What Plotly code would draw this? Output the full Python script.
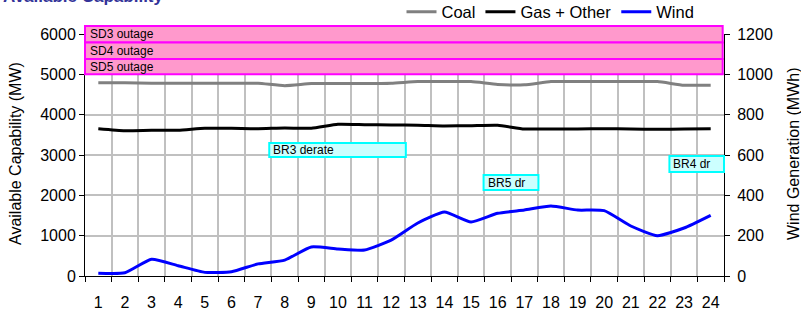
import plotly.graph_objects as go

hours = [str(h) for h in range(1, 25)]
coal = [4790, 4790, 4780, 4780, 4780, 4780, 4780, 4720, 4770, 4770, 4770, 4780,
        4820, 4820, 4820, 4750, 4740, 4820, 4820, 4820, 4820, 4820, 4730, 4730]
gas_other = [3652, 3603, 3613, 3613, 3662, 3662, 3652, 3670, 3662, 3761, 3752, 3744,
             3737, 3719, 3727, 3737, 3645, 3645, 3645, 3652, 3645, 3637, 3645, 3652]
wind = [14, 16, 83, 51, 18, 21, 60, 79, 144, 134, 129, 178,
        263, 317, 268, 311, 327, 347, 327, 324, 248, 200, 238, 301]

# outage / derate annotation boxes (hour span, MW span)
outage_labels = ["SD3 outage", "SD4 outage", "SD5 outage"]
outage_lo = [5790, 5380, 5000]
outage_hi = [6200, 5790, 5380]
outage_h0, outage_h1 = 0.5, 24.45

derate_labels = ["BR3 derate", "BR5 dr", "BR4 dr"]
derate_h0 = [7.42, 15.47, 22.45]
derate_h1 = [12.55, 17.53, 24.5]
derate_lo = [2951, 2132, 2579]
derate_hi = [3298, 2504, 2975]

YMAX = 6000.0
Y2MAX = 1200.0
NH = 24

W, H = 801, 314
ML, MR, MT, MB = 85, 77, 34, 38
PW = W - ML - MR
PH = H - MT - MB

def px(h):
    return (h - 0.5) / NH

def py(v):
    return v / YMAX

def fx(pix):
    return (pix - ML) / PW

def fy(pix):
    return (H - MB - pix) / PH

FONT = "Liberation Sans, Arial, sans-serif"

fig = go.Figure()
fig.add_trace(go.Scatter(x=hours, y=coal, name="Coal", mode="lines",
                         line=dict(color="#808080", width=3, shape="spline", smoothing=0.5)))
fig.add_trace(go.Scatter(x=hours, y=gas_other, name="Gas + Other", mode="lines",
                         line=dict(color="#000000", width=3, shape="spline", smoothing=0.5)))
fig.add_trace(go.Scatter(x=hours, y=wind, name="Wind", mode="lines", yaxis="y2",
                         line=dict(color="#0000ff", width=3, shape="spline", smoothing=0.5)))

shapes = []
annotations = []
for lab, lo, hi in zip(outage_labels, outage_lo, outage_hi):
    shapes.append(dict(type="rect", xref="paper", yref="paper",
                       x0=px(outage_h0), x1=px(outage_h1), y0=py(lo), y1=py(hi),
                       fillcolor="#ff99cc", line=dict(color="#ff00ff", width=2), layer="above"))
    annotations.append(dict(xref="paper", yref="paper", x=px(outage_h0) + 3 / PW,
                            y=py((lo + hi) / 2), text=lab, showarrow=False,
                            xanchor="left", yanchor="middle",
                            font=dict(family=FONT, size=12, color="#000000")))
for lab, h0, h1, lo, hi in zip(derate_labels, derate_h0, derate_h1, derate_lo, derate_hi):
    shapes.append(dict(type="rect", xref="paper", yref="paper",
                       x0=px(h0), x1=px(h1), y0=py(lo), y1=py(hi),
                       fillcolor="#ccffff", line=dict(color="#00ffff", width=2), layer="above"))
    annotations.append(dict(xref="paper", yref="paper", x=px(h0) + 2 / PW,
                            y=py((lo + hi) / 2), text=lab, showarrow=False,
                            xanchor="left", yanchor="middle",
                            font=dict(family=FONT, size=12, color="#000000")))

# chart title (mostly above the visible area, as in the original)
annotations.append(dict(xref="paper", yref="paper", x=fx(0.5), y=fy(-3.8),
                        text="<b>Available Capability</b>", showarrow=False,
                        xanchor="left", yanchor="middle",
                        font=dict(family=FONT, size=17, color="#333399")))
# axis titles
annotations.append(dict(xref="paper", yref="paper", x=fx(15), y=fy(154),
                        text="Available Capability (MW)", showarrow=False, textangle=-90,
                        xanchor="center", yanchor="middle",
                        font=dict(family=FONT, size=16, color="#000000")))
annotations.append(dict(xref="paper", yref="paper", x=fx(793), y=fy(154),
                        text="Wind Generation (MWh)", showarrow=False, textangle=-90,
                        xanchor="center", yanchor="middle",
                        font=dict(family=FONT, size=16, color="#000000")))

fig.update_layout(
    width=W, height=H,
    margin=dict(l=ML, r=MR, t=MT, b=MB, autoexpand=False),
    paper_bgcolor="white", plot_bgcolor="white",
    font=dict(family=FONT, size=16, color="#000000"),
    showlegend=True,
    legend=dict(orientation="h", x=fx(401.5), xanchor="left", y=fy(12), yanchor="middle",
                font=dict(family=FONT, size=16.5), bgcolor="rgba(0,0,0,0)"),
    xaxis=dict(type="category", tickson="boundaries", range=[-0.5, 23.5],
               showgrid=True, gridcolor="#c0c0c0", gridwidth=1.5,
               ticks="outside", ticklen=5, tickcolor="#000000", tickangle=0,
               ticklabelstandoff=12,
               showline=True, linecolor="#000000", linewidth=1, automargin=False,
               tickfont=dict(size=16), fixedrange=True),
    yaxis=dict(range=[0, YMAX], dtick=1000, showgrid=True, gridcolor="#c0c0c0", gridwidth=1.5,
               zeroline=False, ticks="outside", ticklen=5, tickcolor="#000000",
               showline=True, linecolor="#000000", linewidth=1, automargin=False,
               tickfont=dict(size=16)),
    yaxis2=dict(range=[0, Y2MAX], dtick=200, overlaying="y", side="right",
                showgrid=False, zeroline=False, ticks="outside", ticklen=5, tickcolor="#000000",
                ticklabelstandoff=4,
                showline=True, linecolor="#000000", linewidth=1, automargin=False,
                tickfont=dict(size=16)),
    shapes=shapes,
    annotations=annotations,
)

fig.write_html("out.html", config={"displayModeBar": False},
               post_script="document.body.style.margin='0';")
